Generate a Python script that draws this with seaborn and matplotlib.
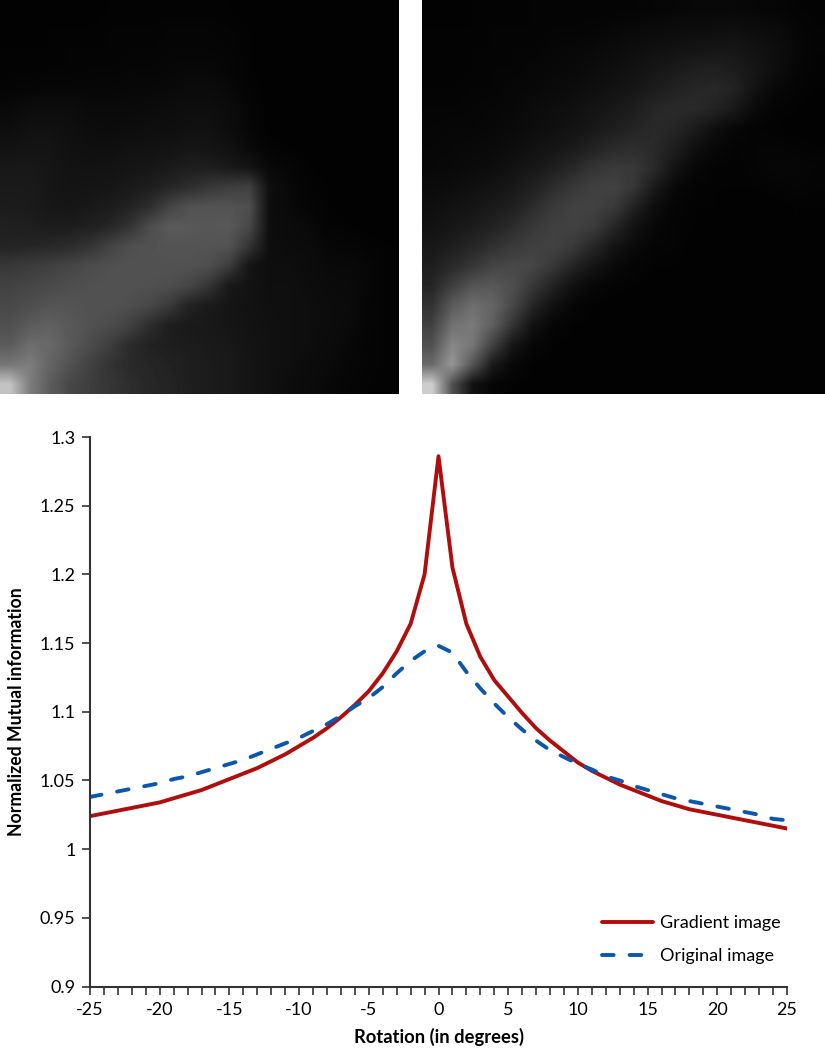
import numpy as np
import pandas as pd
import seaborn as sns
import matplotlib.pyplot as plt

# rotation angle, one point per degree
rotation = list(range(-25, 26))

gradient_nmi = [1.024, 1.026, 1.028, 1.030, 1.032, 1.034, 1.037, 1.040, 1.043, 1.047,
                1.051, 1.055, 1.059, 1.064, 1.069, 1.075, 1.081, 1.088, 1.096, 1.105,
                1.115, 1.128, 1.144, 1.164, 1.200, 1.286, 1.205, 1.164, 1.140, 1.123,
                1.111, 1.099, 1.088, 1.079, 1.071, 1.063, 1.057, 1.052, 1.047, 1.043,
                1.039, 1.035, 1.032, 1.029, 1.027, 1.025, 1.023, 1.021, 1.019, 1.017,
                1.015]

original_nmi = [1.038, 1.040, 1.042, 1.044, 1.046, 1.048, 1.051, 1.053, 1.056, 1.059,
                1.062, 1.065, 1.069, 1.073, 1.077, 1.081, 1.086, 1.091, 1.097, 1.104,
                1.110, 1.118, 1.128, 1.137, 1.144, 1.148, 1.143, 1.129, 1.117, 1.106,
                1.096, 1.087, 1.079, 1.072, 1.067, 1.062, 1.058, 1.053, 1.050, 1.046,
                1.043, 1.040, 1.037, 1.035, 1.033, 1.031, 1.029, 1.027, 1.025, 1.022,
                1.021]

y_ticks = [0.9, 0.95, 1, 1.05, 1.1, 1.15, 1.2, 1.25, 1.3]
y_tick_labels = ['0.9', '0.95', '1', '1.05', '1.1', '1.15', '1.2', '1.25', '1.3']
x_ticks = [-25, -20, -15, -10, -5, 0, 5, 10, 15, 20, 25]

# joint histograms, grey levels on a coarse grid
hist_left = [
    [2, 2, 2, 2, 2, 3, 3, 3, 3, 3, 3, 3, 2, 2, 2, 2, 2, 2, 2, 2],
    [2, 2, 3, 3, 3, 4, 4, 4, 5, 5, 5, 4, 3, 2, 2, 2, 2, 2, 2, 2],
    [3, 3, 3, 4, 4, 4, 5, 5, 6, 6, 6, 5, 3, 2, 2, 2, 2, 2, 2, 2],
    [3, 3, 4, 4, 5, 5, 6, 6, 7, 8, 8, 6, 3, 2, 2, 2, 2, 2, 2, 2],
    [5, 6, 7, 7, 7, 7, 8, 8, 9, 11, 11, 9, 4, 2, 2, 2, 2, 2, 2, 2],
    [9, 12, 13, 13, 10, 10, 10, 11, 13, 14, 14, 12, 6, 2, 2, 2, 2, 2, 2, 2],
    [14, 17, 17, 15, 13, 12, 13, 15, 15, 17, 17, 13, 7, 2, 2, 2, 2, 2, 2, 2],
    [18, 20, 20, 17, 15, 15, 17, 18, 19, 21, 20, 17, 10, 4, 3, 2, 2, 2, 2, 2],
    [24, 24, 22, 19, 18, 19, 21, 22, 26, 30, 30, 25, 20, 9, 6, 3, 2, 2, 2, 2],
    [26, 26, 22, 20, 21, 22, 25, 30, 38, 45, 55, 62, 65, 15, 8, 4, 3, 2, 2, 2],
    [28, 27, 23, 22, 24, 28, 34, 46, 68, 82, 84, 84, 78, 14, 9, 6, 3, 2, 2, 2],
    [32, 30, 28, 28, 32, 38, 52, 76, 90, 88, 86, 88, 72, 14, 11, 9, 4, 3, 2, 2],
    [36, 38, 40, 44, 52, 66, 78, 82, 84, 84, 84, 82, 52, 14, 12, 11, 7, 6, 4, 3],
    [56, 60, 64, 70, 76, 80, 82, 82, 82, 82, 78, 60, 20, 14, 14, 12, 9, 9, 7, 3],
    [66, 70, 74, 78, 80, 82, 82, 80, 78, 70, 52, 24, 20, 15, 15, 13, 11, 10, 7, 3],
    [72, 78, 84, 84, 82, 82, 78, 72, 58, 34, 26, 22, 18, 16, 15, 14, 12, 11, 6, 3],
    [80, 90, 96, 88, 82, 76, 66, 46, 30, 26, 24, 22, 19, 17, 15, 14, 12, 10, 6, 3],
    [90, 108, 104, 90, 76, 62, 44, 34, 30, 28, 26, 24, 20, 17, 15, 14, 11, 8, 5, 3],
    [118, 125, 100, 82, 66, 52, 42, 38, 34, 30, 28, 25, 21, 17, 15, 12, 10, 7, 5, 3],
    [195, 125, 92, 72, 62, 54, 46, 40, 36, 30, 28, 25, 21, 17, 13, 11, 8, 6, 4, 3],
]

hist_right = [
    [2, 2, 3, 3, 3, 4, 4, 4, 4, 4, 5, 6, 7, 8, 8, 8, 7, 6, 4, 3],
    [3, 3, 3, 4, 4, 4, 5, 5, 6, 8, 9, 11, 12, 13, 14, 15, 13, 11, 7, 4],
    [3, 3, 4, 4, 5, 5, 7, 8, 9, 11, 14, 16, 18, 20, 22, 22, 18, 14, 8, 4],
    [3, 3, 4, 5, 5, 7, 8, 9, 12, 15, 18, 22, 26, 30, 32, 28, 22, 14, 7, 3],
    [4, 4, 5, 5, 7, 8, 10, 12, 15, 18, 22, 28, 34, 38, 40, 34, 18, 9, 4, 3],
    [5, 5, 6, 7, 8, 11, 14, 16, 20, 24, 30, 38, 42, 42, 36, 24, 10, 4, 3, 2],
    [6, 7, 7, 8, 10, 13, 16, 19, 24, 30, 36, 42, 38, 28, 15, 8, 4, 3, 2, 2],
    [7, 8, 9, 10, 13, 17, 21, 26, 34, 42, 46, 42, 30, 16, 8, 4, 5, 5, 4, 3],
    [8, 9, 11, 13, 18, 23, 30, 40, 52, 58, 56, 42, 20, 8, 4, 3, 5, 7, 7, 5],
    [11, 13, 16, 19, 24, 32, 44, 56, 64, 66, 54, 26, 9, 4, 3, 3, 3, 4, 5, 4],
    [15, 18, 21, 26, 32, 44, 58, 66, 66, 58, 34, 13, 5, 3, 3, 2, 2, 2, 3, 3],
    [18, 22, 28, 34, 44, 56, 64, 66, 60, 38, 18, 8, 4, 3, 2, 2, 3, 3, 3, 2],
    [24, 30, 38, 48, 58, 64, 66, 58, 38, 20, 10, 5, 4, 2, 2, 2, 2, 3, 2, 2],
    [30, 42, 54, 68, 72, 70, 56, 36, 20, 10, 5, 3, 3, 2, 2, 2, 2, 2, 2, 2],
    [38, 62, 84, 88, 78, 56, 34, 16, 7, 4, 3, 2, 2, 2, 2, 2, 2, 2, 2, 2],
    [50, 90, 110, 100, 72, 38, 16, 6, 3, 2, 2, 2, 2, 2, 2, 2, 2, 2, 2, 2],
    [65, 112, 122, 95, 52, 18, 6, 3, 2, 2, 2, 2, 2, 2, 2, 2, 2, 2, 2, 2],
    [80, 135, 118, 65, 22, 7, 3, 2, 2, 2, 2, 2, 2, 2, 2, 2, 2, 2, 2, 2],
    [105, 150, 85, 26, 8, 3, 2, 2, 2, 2, 2, 2, 2, 2, 2, 2, 2, 2, 2, 2],
    [205, 80, 18, 6, 3, 2, 2, 2, 2, 2, 2, 2, 2, 2, 2, 2, 2, 2, 2, 2],
]

sns.set_theme(style='ticks')
plt.rcParams['font.family'] = ['Lato', 'DejaVu Sans']
plt.rcParams['axes.unicode_minus'] = False  # plain hyphen on the axis
plt.rcParams['path.simplify'] = False

W, H = 825, 1050
fig = plt.figure(figsize=(W / 100, H / 100), dpi=100)


def px_axes(left, top, right, bottom):
    # pixel box of the reference -> figure fractions
    return fig.add_axes([left / W, 1 - bottom / H, (right - left) / W, (bottom - top) / H])


# histograms on top
for hist, box in [(hist_left, (0, 0, 399, 394)), (hist_right, (422, 0, 825, 394))]:
    ax_img = px_axes(*box)
    ax_img.imshow(np.array(hist), cmap='gray', vmin=0, vmax=255, aspect='auto',
                  interpolation='bilinear')
    ax_img.axis('off')

# line chart
ax = px_axes(90, 437, 787, 986.5)
df = pd.DataFrame({'rotation': rotation, 'gradient': gradient_nmi, 'original': original_nmi})

sns.lineplot(data=df, x='rotation', y='gradient', ax=ax, color='#B00D0D', linewidth=2.8,
             label='Gradient image')
sns.lineplot(data=df, x='rotation', y='original', ax=ax, color='#0D56AE', linewidth=2.8,
             linestyle=(0, (3.0, 4.1)), dash_capstyle='round', label='Original image')

ax.set_xlim(-25, 25)
ax.set_ylim(0.9, 1.3)
ax.set_yticks(y_ticks)
ax.set_yticklabels(y_tick_labels)
ax.set_xticks(x_ticks)
ax.set_xticks(rotation, minor=True)
ax.tick_params(axis='both', which='both', length=5.5, width=1.2, color='#333333',
               labelsize=13, labelcolor='black', pad=5)
ax.tick_params(axis='x', pad=6)

for side in ['top', 'right']:
    ax.spines[side].set_visible(False)
for side in ['left', 'bottom']:
    ax.spines[side].set_color('#333333')
    ax.spines[side].set_linewidth(1.5)

ax.set_xlabel('Rotation (in degrees)', fontsize=13.2, fontweight='bold', color='black', labelpad=7)
ax.set_ylabel('Normalized Mutual information', fontsize=12.7, fontweight='bold', color='black', labelpad=11)

ax.legend(loc='lower right', bbox_to_anchor=(1.014, 0.0105), frameon=False, fontsize=13,
          handlelength=2.8, handletextpad=0.4, labelspacing=0.95, labelcolor='black')

fig.savefig('out.png', dpi=100, facecolor='white')
